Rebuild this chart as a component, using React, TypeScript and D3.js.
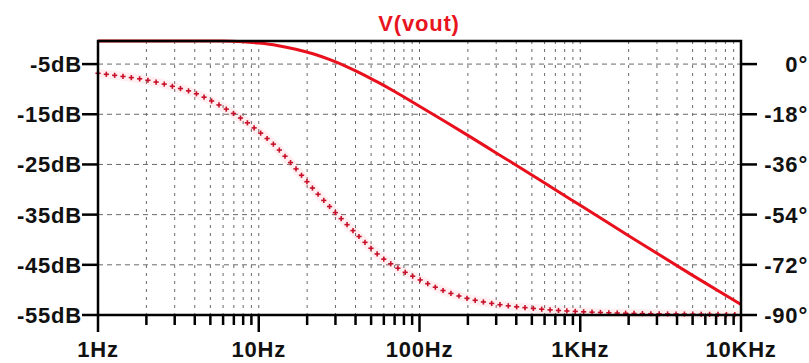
import React, { useEffect, useRef } from 'react';
import * as d3 from 'd3';

// frequency points (Hz)
const FREQS = [1, 1.5, 2, 3, 4, 5, 6, 8, 10, 13, 17, 22, 28, 36, 45, 55, 70, 100, 140, 200, 300, 500, 700, 1000, 2000, 5000, 10000];
// magnitude, dB (solid line)
const MAG_DB = [-0.01, -0.02, -0.04, -0.08, -0.14, -0.22, -0.32, -0.55, -0.82, -1.28, -2.03, -3.0, -4.18, -5.66, -7.14, -8.6, -10.46, -13.4, -16.2, -19.2, -22.7, -27.1, -30.05, -33.15, -39.2, -47.1, -52.9];
// phase, degrees (dotted line)
const PHASE_DEG = [-3.3, -4.6, -5.7, -8.2, -10.4, -13, -15.5, -20, -24.2, -30, -37.5, -45, -51.5, -58, -63.5, -68.3, -72.5, -77.3, -81.2, -84.1, -86.1, -87.6, -88.3, -88.8, -89.4, -89.7, -89.9];

const DB_TICKS = [-5, -15, -25, -35, -45, -55];
const DEG_TICKS = [0, -18, -36, -54, -72, -90];
const DECADES = [1, 10, 100, 1000, 10000];
const DECADE_LABELS = ['1Hz', '10Hz', '100Hz', '1KHz', '10KHz'];

const W = 809;
const H = 363;
const FONT = '"Liberation Sans", Arial, sans-serif';

export default function App() {
  const svgRef = useRef<SVGSVGElement>(null);

  useEffect(() => {
    if (!svgRef.current) return;
    const svg = d3.select(svgRef.current);
    svg.selectAll('*').remove();

    const left = 98, right = 741, top = 41, bottom = 315;

    const x = d3.scaleLog().domain([1, 10000]).range([left, right]);
    const yMag = d3.scaleLinear().domain([-55, -0.4]).range([bottom, top]).clamp(true);
    const yPh = d3.scaleLinear().domain([-90, 0]).range([yMag(-55), yMag(-5)]);

    svg.append('rect').attr('width', W).attr('height', H).attr('fill', '#ffffff');

    // minor/major frequency positions
    const freqGrid: number[] = [];
    DECADES.slice(0, -1).forEach(d => {
      for (let k = 1; k <= 9; k++) freqGrid.push(d * k);
    });
    freqGrid.push(10000);

    const grid = svg.append('g');
    grid.selectAll('line.v')
      .data(freqGrid.filter(f => f > 1 && f < 10000))
      .enter()
      .append('line')
      .attr('x1', d => x(d)).attr('x2', d => x(d))
      .attr('y1', top).attr('y2', bottom)
      .attr('stroke', '#6a6a6a').attr('stroke-width', 1)
      .attr('stroke-dasharray', '3,5');

    grid.selectAll('line.h')
      .data(DB_TICKS.filter(d => d > -55))
      .enter()
      .append('line')
      .attr('x1', left).attr('x2', right)
      .attr('y1', d => yMag(d)).attr('y2', d => yMag(d))
      .attr('stroke', '#6a6a6a').attr('stroke-width', 1)
      .attr('stroke-dasharray', '5,4');

    // phase curve: glow + "+" markers along path
    const phLine = d3.line<number>()
      .x((_, i) => x(FREQS[i]))
      .y(d => yPh(d))
      .curve(d3.curveMonotoneX);

    svg.append('path')
      .datum(PHASE_DEG)
      .attr('d', phLine)
      .attr('fill', 'none')
      .attr('stroke', '#ff3040')
      .attr('stroke-opacity', 0.08)
      .attr('stroke-width', 9);

    const ghost = svg.append('path')
      .datum(PHASE_DEG)
      .attr('d', phLine)
      .attr('fill', 'none')
      .attr('stroke', 'none');

    const node = ghost.node() as SVGPathElement;
    const total = node.getTotalLength();
    const step = 8.4;
    const marks = svg.append('g')
      .attr('stroke', '#c8102a')
      .attr('stroke-width', 1.6);
    for (let s = 0; s <= total; s += step) {
      const p = node.getPointAtLength(s);
      marks.append('line').attr('x1', p.x - 2.6).attr('x2', p.x + 2.6).attr('y1', p.y).attr('y2', p.y);
      marks.append('line').attr('x1', p.x).attr('x2', p.x).attr('y1', p.y - 2.6).attr('y2', p.y + 2.6);
    }

    // magnitude curve
    const magLine = d3.line<number>()
      .x((_, i) => x(FREQS[i]))
      .y(d => yMag(d))
      .curve(d3.curveMonotoneX);

    svg.append('path')
      .datum(MAG_DB)
      .attr('d', magLine)
      .attr('fill', 'none')
      .attr('stroke', '#e8101c')
      .attr('stroke-width', 3);

    // frame
    svg.append('rect')
      .attr('x', left).attr('y', top)
      .attr('width', right - left).attr('height', bottom - top)
      .attr('fill', 'none')
      .attr('stroke', '#000')
      .attr('stroke-width', 2.5);

    const axes = svg.append('g').attr('stroke', '#000').attr('stroke-width', 2.5);

    // left ticks
    DB_TICKS.forEach(d => {
      axes.append('line').attr('x1', left - 16).attr('x2', left).attr('y1', yMag(d)).attr('y2', yMag(d));
    });
    // right ticks
    DEG_TICKS.forEach(d => {
      axes.append('line').attr('x1', right).attr('x2', right + 16).attr('y1', yPh(d)).attr('y2', yPh(d));
    });
    // bottom ticks
    freqGrid.forEach(f => {
      const major = DECADES.includes(f);
      axes.append('line')
        .attr('x1', x(f)).attr('x2', x(f))
        .attr('y1', bottom).attr('y2', bottom + (major ? 17 : 10));
    });

    const labels = svg.append('g')
      .attr('font-family', FONT)
      .attr('font-weight', 'bold')
      .attr('font-size', 22)
      .attr('letter-spacing', 0.8)
      .attr('fill', '#111');

    DB_TICKS.forEach(d => {
      labels.append('text')
        .attr('x', 82).attr('y', yMag(d)).attr('dy', '0.36em')
        .attr('text-anchor', 'end')
        .text(`${d}dB`);
    });
    DEG_TICKS.forEach(d => {
      labels.append('text')
        .attr('x', 808).attr('y', yPh(d)).attr('dy', '0.36em')
        .attr('text-anchor', 'end')
        .text(`${d}°`);
    });
    DECADES.forEach((f, i) => {
      labels.append('text')
        .attr('x', x(f)).attr('y', 357)
        .attr('text-anchor', 'middle')
        .text(DECADE_LABELS[i]);
    });

    svg.append('text')
      .attr('x', 419).attr('y', 31)
      .attr('text-anchor', 'middle')
      .attr('font-family', FONT)
      .attr('font-weight', 'bold')
      .attr('font-size', 22)
      .attr('letter-spacing', 0.8)
      .attr('fill', '#e8141e')
      .text('V(vout)');
  }, []);

  return (
    <div style={{ position: 'fixed', left: 0, top: 0, width: W, height: H, background: '#fff' }}>
      <svg ref={svgRef} width={W} height={H} style={{ display: 'block' }} />
    </div>
  );
}
